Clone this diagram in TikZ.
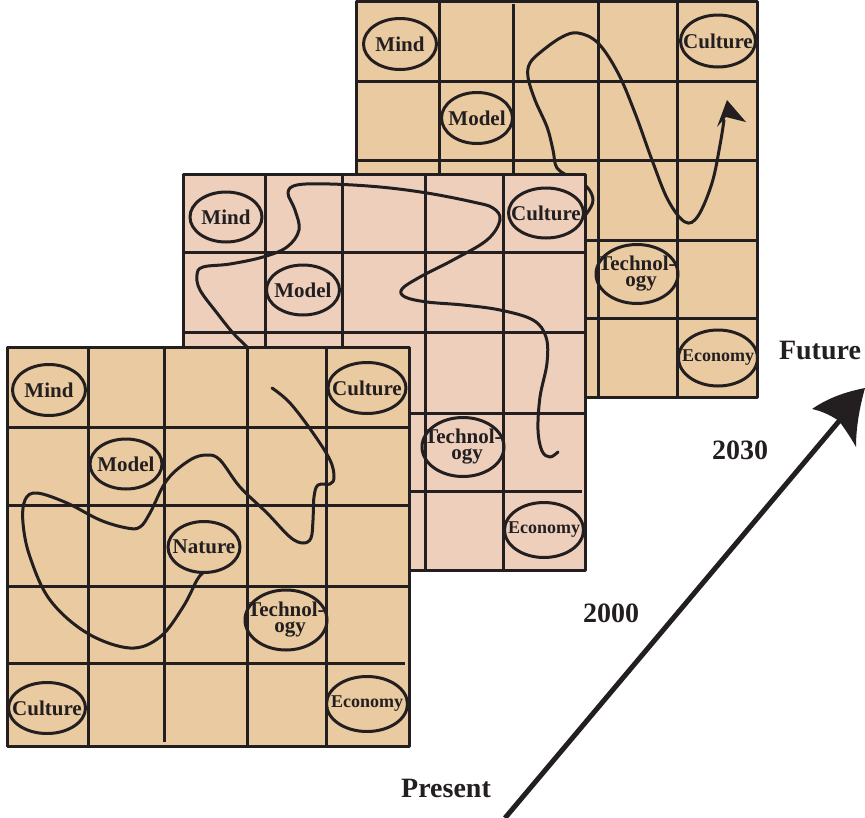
\documentclass[tikz,border=0pt]{standalone}
\usepackage{fontspec}
\setmainfont{Liberation Serif}
\usetikzlibrary{shapes.geometric}
\definecolor{gtan}{RGB}{234,202,160}
\definecolor{gpink}{RGB}{237,207,188}
\definecolor{ink}{RGB}{35,31,32}
\newcommand\ellab[7]{%
  \node[ell, minimum width=#5pt, minimum height=#6pt] (#2) at (#3,#4) {};
  \node[#1] (#2t) at (#2.center) {#7};}
\begin{document}
\begin{tikzpicture}[x=1pt,y=-1pt, line join=round,
  gridline/.style={draw=ink, line width=3pt},
  ell/.style={ellipse, draw=ink, line width=3pt, inner sep=0pt},
  lbl/.style={font=\fontsize{21}{16}\selectfont\bfseries, text=ink, inner sep=0pt, align=center},
  smalllbl/.style={font=\fontsize{18}{14}\selectfont\bfseries, text=ink, inner sep=0pt},
  curve/.style={draw=ink, line width=3pt, line cap=round},
  biglbl/.style={font=\fontsize{28}{30}\selectfont\bfseries, text=ink, inner sep=0pt}]
\useasboundingbox (0,0) rectangle (865,817);

% ---------- back panel ----------
\fill[gtan] (356,1.5) rectangle (757,397);
\foreach \x in {439,598,677} \draw[gridline] (\x,1.5) -- (\x,397);
\draw[gridline] (513,4) -- (513,397);
\foreach \y in {81,160,240,318} \draw[gridline] (356,\y) -- (759,\y);
\draw[gridline] (356,1.5) rectangle (757,397);
\ellab{lbl}{bMind}{400}{44}{73}{51}{Mind}
\ellab{lbl}{bCult}{718}{41}{75}{52}{Culture}
\ellab{lbl}{bModel}{477}{118}{71}{51}{Model}
\ellab{lbl}{bTech}{637}{274}{82}{59}{Technol-\\\hspace*{8pt}ogy}
\ellab{smalllbl}{bEcon}{718}{358}{79}{56}{Economy}
\draw[curve] plot[smooth, tension=0.6] coordinates {
 (575,225) (587,213) (593,200) (587,187) (572,178) (557,168) (553,150)
 (547,127) (535,100) (528,77) (530,63) (542,51) (562,37) (578,33) (598,43)
 (618,73) (635,113) (652,160) (668,200) (685,222) (698,216) (712,183)
 (720,145) (724,120)};
\fill[ink] (727,100) -- (746,122) -- (726,117) -- (717,127) -- cycle;

% ---------- middle panel ----------
\fill[gpink] (183,174) rectangle (585,570);
\foreach \x in {265,342,425,503} \draw[gridline] (\x,174) -- (\x,570);
\foreach \y in {252,332,413} \draw[gridline] (183,\y) -- (585,\y);
\draw[gridline] (183,491) -- (582,491);
\draw[gridline] (183,174) rectangle (585,570);
\ellab{lbl}{mMind}{226}{217}{72}{50}{Mind}
\ellab{lbl}{mCult}{546}{213}{75}{50}{Culture}
\ellab{lbl}{mModel}{303}{290}{73}{50}{Model}
\ellab{lbl}{mTech}{463}{447}{82}{59}{Technol-\\\hspace*{8pt}ogy}
\ellab{smalllbl}{mEcon}{544}{530}{79}{55}{Economy}
\draw[curve] plot[smooth, tension=0.6] coordinates {
 (558,452) (550,457) (542,451) (538,430) (540,397) (547,363) (546,337)
 (533,320) (500,310) (463,305) (427,302) (405,297) (402,289) (420,277)
 (453,260) (487,240) (500,220) (493,208) (473,202) (427,193) (380,187)
 (330,184) (297,185) (288,193) (295,210) (299,230) (287,247) (263,257)
 (230,264) (203,267) (197,275) (200,290) (217,313) (233,333) (247,347)
 (260,362)};

% ---------- front panel ----------
\fill[gtan] (7,347) rectangle (409,746);
\foreach \x in {88,247,326} \draw[gridline] (\x,347) -- (\x,746);
\draw[gridline] (164,347) -- (164,742);
\foreach \y in {427,505,586} \draw[gridline] (7,\y) -- (409,\y);
\draw[gridline] (7,663) -- (405,663);
\draw[gridline] (7,347) rectangle (409,746);
\ellab{lbl}{fMind}{49}{390}{73}{51}{Mind}
\ellab{lbl}{fCult}{367}{388}{78}{51}{Culture}
\ellab{lbl}{fModel}{126}{464}{72}{50}{Model}
\ellab{lbl}{fNat}{204}{547}{72}{51}{Nature}
\ellab{lbl}{fTech}{286}{620}{82}{60}{Technol-\\\hspace*{8pt}ogy}
\ellab{lbl}{fCult2}{47}{708}{77}{51}{Culture}
\ellab{smalllbl}{fEcon}{367}{704}{81}{55}{Economy}
\draw[curve] plot[smooth, tension=0.6] coordinates {
 (272,388) (290,403) (313,433) (330,460) (334,477) (330,484) (318,485)
 (314,497) (313,520) (311,538) (303,543) (290,537) (267,513) (240,487)
 (220,460) (207,455) (190,460) (167,480) (150,513) (140,527) (127,528)
 (100,520) (67,503) (37,493) (25,500) (23,523) (30,557) (50,600) (87,633)
 (130,648) (160,637) (183,607) (197,580) (203,573)};

% ---------- time arrow ----------
\coordinate (tstart) at (505,818);
\coordinate (tend) at (840,420);
\draw[ink, line width=5pt] (tstart) -- (tend);
\fill[ink] (865,388) .. controls (845,392) and (828,398) .. (812,409)
  .. controls (822,411) and (832,416) .. (839,421)
  .. controls (845,429) and (851,438) .. (856,447)
  .. controls (856,426) and (860,406) .. (865,388) -- cycle;
\node[biglbl] (future) at (820,350) {Future};
\node[biglbl] (y2030) at (740,450) {2030};
\node[biglbl] (y2000) at (611,613) {2000};
\node[biglbl] (present) at (446,788) {Present};
\end{tikzpicture}
\end{document}
